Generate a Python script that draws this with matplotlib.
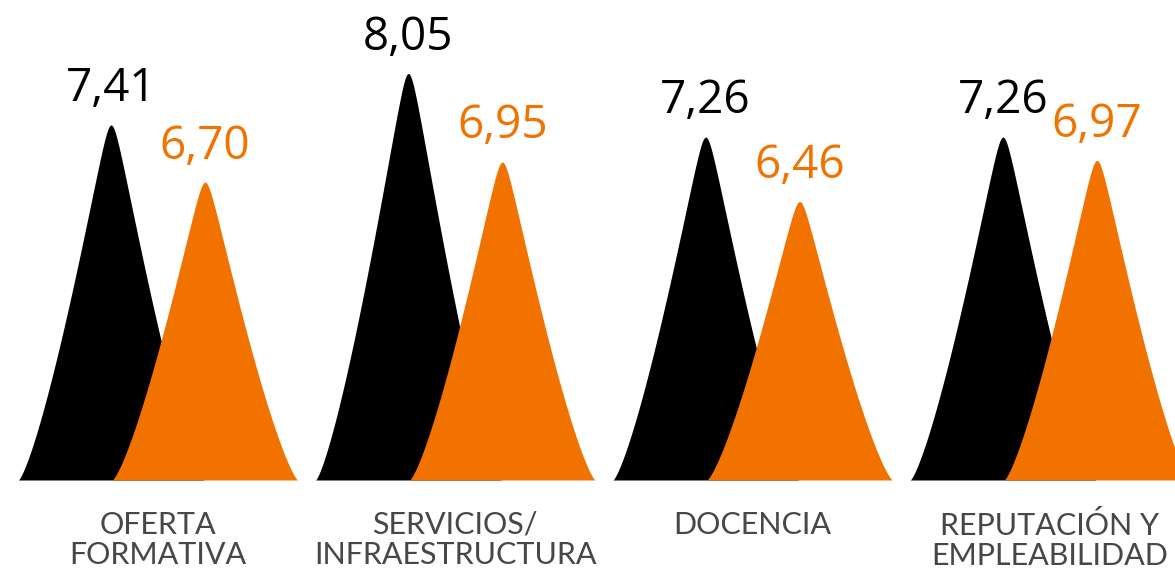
import numpy as np
import matplotlib.pyplot as plt

categories = ['OFERTA\nFORMATIVA', 'SERVICIOS/\nINFRAESTRUCTURA', 'DOCENCIA', 'REPUTACIÓN Y\nEMPLEABILIDAD']
serie_negra = [7.41, 8.05, 7.26, 7.26]
serie_naranja = [6.70, 6.95, 6.46, 6.97]
etiquetas_negra = ['7,41', '8,05', '7,26', '7,26']
etiquetas_naranja = ['6,70', '6,95', '6,46', '6,97']

NEGRO = '#000000'
NARANJA = '#F27200'
Y_MIN = 3.0


def peak_profile(d, eps=0.06, p=1.3):
    # pointed "peak" shape with a rounded tip, 1 at center, 0 at |d| = 1
    r = np.sqrt(d ** 2 + eps ** 2) - eps
    r = np.clip(r / (np.sqrt(1 + eps ** 2) - eps), 0, 1)
    return (1 - r) ** p


def draw_peak(ax, xc, value, half_width, color):
    d = np.linspace(-1, 1, 601)
    x = xc + d * half_width
    y = Y_MIN + (value - Y_MIN) * peak_profile(d)
    ax.fill_between(x, Y_MIN, y, color=color, linewidth=0, zorder=2)


fig = plt.figure(figsize=(11.75, 5.75), dpi=100)
ax = fig.add_axes([0, 95 / 575, 1, 480 / 575])

offset = 0.158
half_width = 0.312
x = np.arange(len(categories))

for i in x:
    draw_peak(ax, i - offset, serie_negra[i], half_width, NEGRO)
    draw_peak(ax, i + offset, serie_naranja[i], half_width, NARANJA)
    ax.annotate(etiquetas_negra[i], (i - offset, serie_negra[i]), xytext=(0, 17),
                textcoords='offset points', ha='center', va='baseline',
                fontsize=33, color=NEGRO, family='Open Sans')
    ax.annotate(etiquetas_naranja[i], (i + offset, serie_naranja[i]), xytext=(0, 17),
                textcoords='offset points', ha='center', va='baseline',
                fontsize=33, color=NARANJA, family='Open Sans')

ax.set_xlim(-158 / 297.3, (1175 - 158) / 297.3)
ax.set_ylim(Y_MIN, Y_MIN + 480 / 80.5)

ax.set_xticks(x)
ax.set_xticklabels(categories, fontsize=22, color='#474747', family='Lato',
                   linespacing=1.12)
ax.tick_params(axis='x', length=0, pad=22)
ax.set_yticks([])
for s in ax.spines.values():
    s.set_visible(False)

fig.savefig('out.png', dpi=100)
